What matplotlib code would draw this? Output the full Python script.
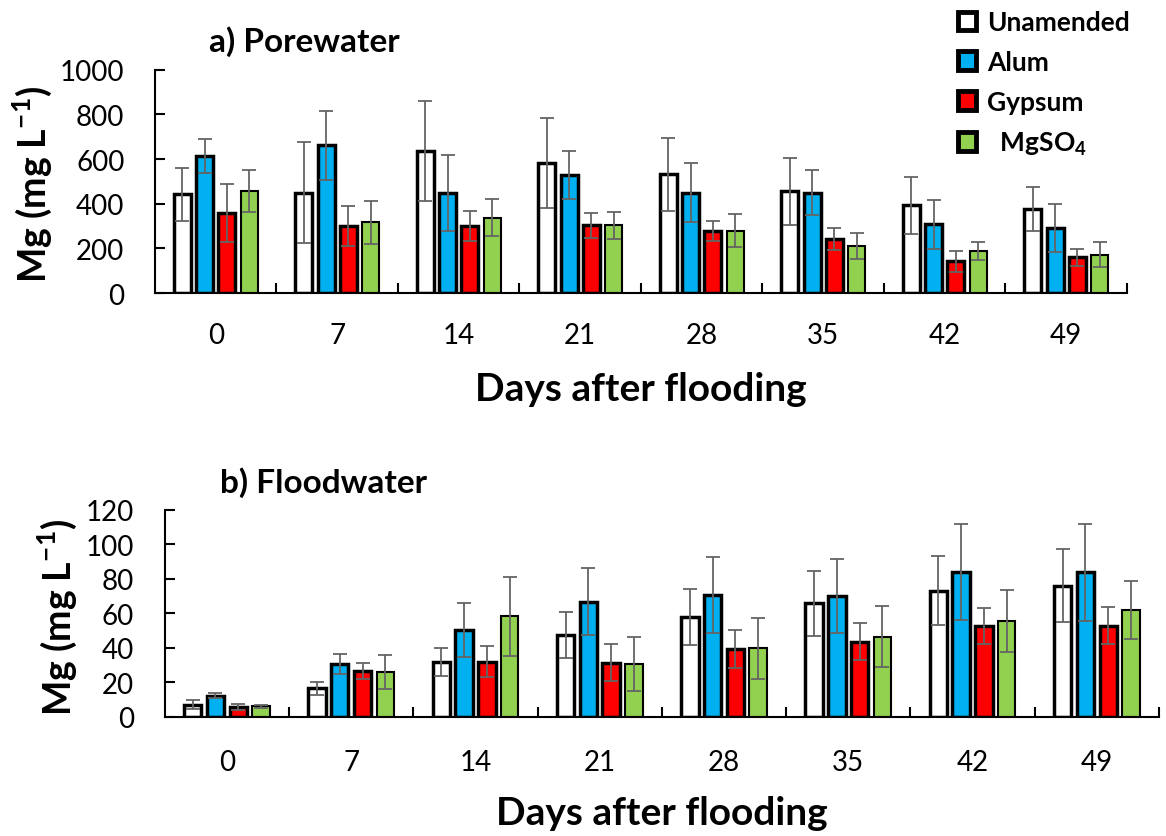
import numpy as np
import matplotlib.pyplot as plt
from matplotlib.patches import Patch

plt.rcParams['font.family'] = ['Lato', 'DejaVu Sans']
plt.rcParams['mathtext.fontset'] = 'custom'
plt.rcParams['mathtext.rm'] = 'Lato'
plt.rcParams['mathtext.bf'] = 'Lato:bold'

days = ['0', '7', '14', '21', '28', '35', '42', '49']
treatments = ['Unamended', 'Alum', 'Gypsum', r'  MgSO$_{\mathbf{4}}$']
colors = ['#FFFFFF', '#00B0F0', '#FF0000', '#92D050']

# porewater Mg (mg/L), mean and sd
pore_unamended = [442, 450, 637, 582, 532, 455, 393, 378]
pore_alum = [614, 662, 450, 529, 450, 450, 307, 292]
pore_gypsum = [360, 300, 300, 303, 278, 241, 142, 160]
pore_mgso4 = [457, 317, 338, 303, 278, 211, 188, 172]
pore_unamended_sd = [120, 228, 223, 202, 163, 149, 127, 98]
pore_alum_sd = [78, 155, 170, 109, 134, 101, 108, 106]
pore_gypsum_sd = [130, 88, 66, 57, 44, 50, 48, 38]
pore_mgso4_sd = [93, 96, 84, 59, 74, 57, 40, 55]

# floodwater Mg (mg/L), mean and sd
flood_unamended = [7.2, 16.6, 32.1, 47.5, 57.8, 65.9, 73.2, 76.1]
flood_alum = [12.3, 30.9, 50.4, 66.9, 70.7, 70.0, 83.9, 83.9]
flood_gypsum = [5.8, 26.8, 32.1, 31.5, 39.4, 43.7, 52.6, 52.9]
flood_mgso4 = [6.2, 25.9, 58.4, 30.7, 39.8, 46.6, 55.7, 62.0]
flood_unamended_sd = [2.7, 3.6, 8.1, 13.5, 16.2, 18.8, 19.9, 21.2]
flood_alum_sd = [1.5, 5.8, 15.6, 19.6, 22.1, 21.5, 27.8, 28.0]
flood_gypsum_sd = [1.8, 4.7, 8.8, 10.9, 11.0, 10.8, 10.3, 10.6]
flood_mgso4_sd = [1.0, 9.9, 22.8, 15.7, 17.7, 17.9, 18.0, 16.7]

pore = [pore_unamended, pore_alum, pore_gypsum, pore_mgso4]
pore_sd = [pore_unamended_sd, pore_alum_sd, pore_gypsum_sd, pore_mgso4_sd]
flood = [flood_unamended, flood_alum, flood_gypsum, flood_mgso4]
flood_sd = [flood_unamended_sd, flood_alum_sd, flood_gypsum_sd, flood_mgso4_sd]

offsets = [-0.275, -0.092, 0.092, 0.275]
edge_w = [2.5, 2.5, 2.5, 1.5]
bar_w = 0.14


def draw_panel(ax, means, sds, ymax, ystep, xpad):
    x = np.arange(len(days))
    for k in range(4):
        ax.bar(x + offsets[k], means[k], bar_w, color=colors[k],
               edgecolor='black', linewidth=edge_w[k], zorder=2)
        ax.errorbar(x + offsets[k], means[k], yerr=sds[k], fmt='none',
                    ecolor='#646464', elinewidth=1.3, capsize=4.8,
                    capthick=1.3, zorder=3)
    ax.set_xlim(-0.5, len(days) - 0.5)
    ax.set_ylim(0, ymax)
    ax.set_yticks(np.arange(0, ymax + 1, ystep))
    # group boundaries carry the tick marks, group centres the day labels
    ax.set_xticks(np.arange(len(days)) + 0.5)
    ax.set_xticklabels([])
    ax.set_xticks(np.arange(len(days)), minor=True)
    ax.set_xticklabels(days, minor=True)
    ax.tick_params(axis='x', which='major', direction='in', length=7, width=1.5)
    ax.tick_params(axis='x', which='minor', length=0, pad=xpad, labelsize=20)
    ax.tick_params(axis='y', direction='in', length=7, width=1.5, pad=22,
                   labelsize=20)
    for s in ['top', 'right']:
        ax.spines[s].set_visible(False)
    for s in ['left', 'bottom']:
        ax.spines[s].set_linewidth(1.5)


fig = plt.figure(figsize=(11.66, 8.37), dpi=100)
ax1 = fig.add_axes([0.1329, 0.6487, 0.8336, 0.2668])
ax2 = fig.add_axes([0.1413, 0.1422, 0.8527, 0.2473])

draw_panel(ax1, pore, pore_sd, 1000, 200, 21)
draw_panel(ax2, flood, flood_sd, 120, 20, 23)

ylab = r'Mg (mg L$^{\mathbf{-1}}$)'
fig.text(32 / 1166, 1 - 184 / 837, ylab, rotation=90, ha='center',
         va='center', fontsize=27, fontweight='bold')
fig.text(57 / 1166, 1 - 617 / 837, ylab, rotation=90, ha='center',
         va='center', fontsize=27, fontweight='bold')

fig.text(641 / 1166, 1 - 390 / 837, 'Days after flooding', ha='center',
         va='center', fontsize=28, fontweight='bold')
fig.text(662 / 1166, 1 - 814 / 837, 'Days after flooding', ha='center',
         va='center', fontsize=28, fontweight='bold')

fig.text(209 / 1166, 1 - 42 / 837, 'a) Porewater', ha='left', va='center',
         fontsize=24, fontweight='bold')
fig.text(220 / 1166, 1 - 483 / 837, 'b) Floodwater', ha='left', va='center',
         fontsize=24, fontweight='bold')

handles = [Patch(facecolor=colors[k], edgecolor='black', linewidth=3.5)
           for k in range(4)]
fig.legend(handles, treatments, loc='upper left',
           bbox_to_anchor=(958 / 1166, 1 - 11 / 837), frameon=False,
           borderaxespad=0, borderpad=0,
           handlelength=0.7, handleheight=0.7, handletextpad=0.4,
           labelspacing=0.6, prop={'size': 19, 'weight': 'bold'})

fig.savefig('out.png', dpi=100)
